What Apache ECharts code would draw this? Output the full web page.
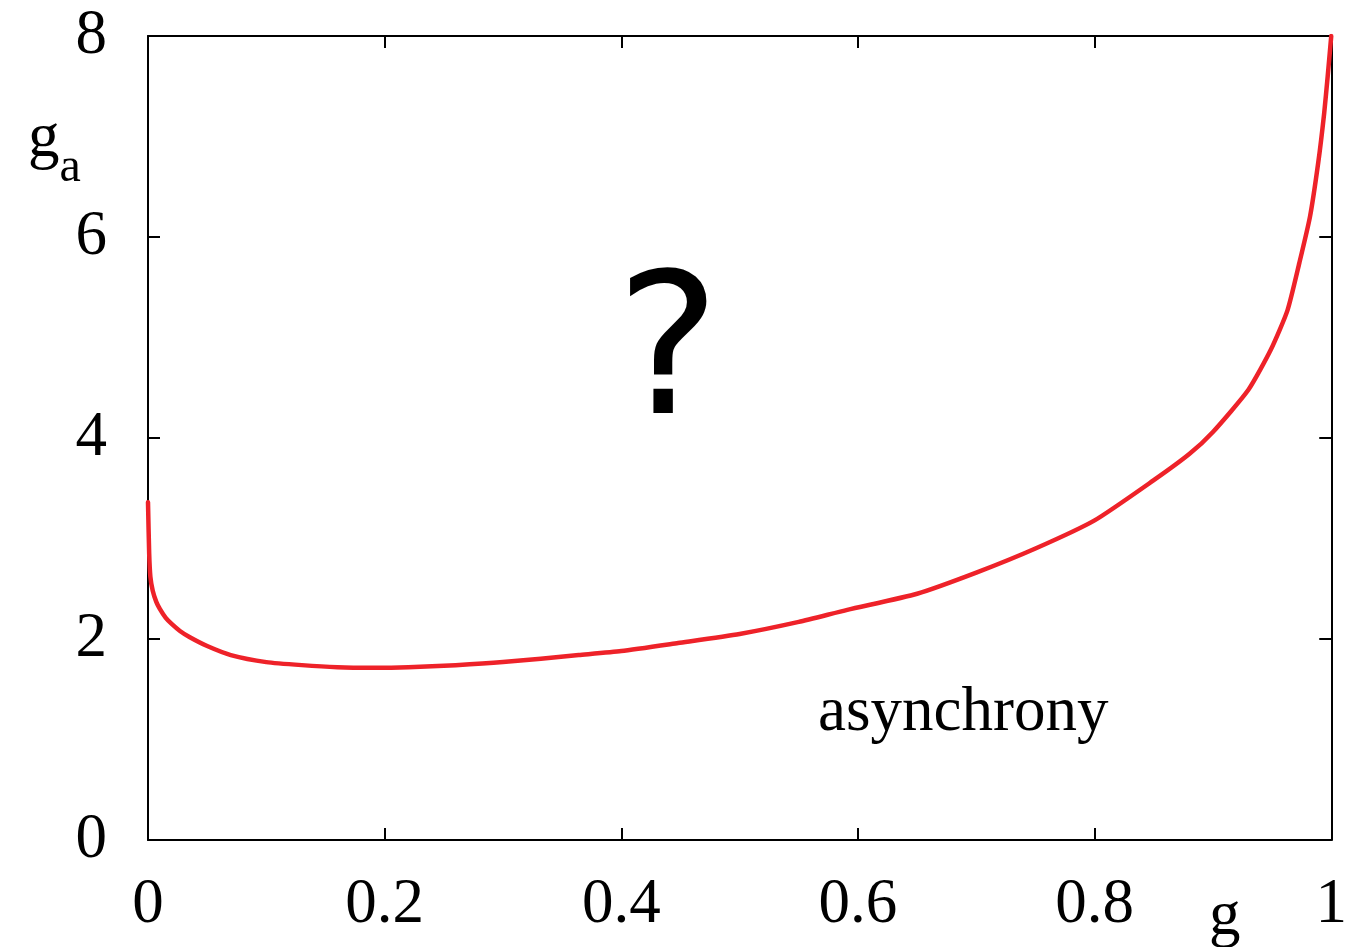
<!DOCTYPE html>
<html>
<head>
<meta charset="utf-8">
<script src="https://cdn.jsdelivr.net/npm/echarts@6/dist/echarts.min.js"></script>
<style>
html,body{margin:0;padding:0;background:#fff;}
#c{width:1350px;height:947px;}
</style>
</head>
<body>
<div id="c"></div>
<script>
const gValues  = [0.000, 0.001, 0.002, 0.004, 0.007, 0.010, 0.015, 0.020, 0.027, 0.035, 0.050, 0.070, 0.100, 0.130, 0.160, 0.190, 0.220, 0.260, 0.300, 0.364, 0.400, 0.448, 0.500, 0.550, 0.591, 0.650, 0.700, 0.750, 0.800, 0.850, 0.880, 0.900, 0.930, 0.949, 0.963, 0.973, 0.982, 0.989, 0.994, 0.997, 1.000];
const gaValues = [3.36, 2.85, 2.62, 2.48, 2.37, 2.30, 2.21, 2.15, 2.08, 2.02, 1.93, 1.84, 1.77, 1.74, 1.72, 1.715, 1.72, 1.74, 1.77, 1.84, 1.88, 1.96, 2.05, 2.17, 2.29, 2.45, 2.66, 2.90, 3.18, 3.58, 3.84, 4.06, 4.48, 4.88, 5.27, 5.74, 6.20, 6.74, 7.23, 7.60, 8.00];
const xTickLabels = {0:'0', 0.2:'0.2', 0.4:'0.4', 0.6:'0.6', 0.8:'0.8', 1:'1'};
const yTickLabels = {0:'0', 2:'2', 4:'4', 6:'6', 8:'8'};
const xAxisTitle = 'g';
const yAxisTitle = 'g';
const yAxisSub = 'a';
const regionMark = '?';
const regionLabel = 'asynchrony';

const serif = '"Liberation Serif", "DejaVu Serif", serif';
const chart = echarts.init(document.getElementById('c'));
const lineStyleAxis = {color:'#000', width:2};
const tickCommon = {show:true, inside:true, length:12, lineStyle:{color:'#000', width:2}};

chart.setOption({
  animation:false,
  backgroundColor:'#fff',
  grid:{left:148, right:12, top:36, bottom:107, containLabel:false},
  xAxis:[{
    type:'value', min:0, max:1, interval:0.2, position:'bottom',
    axisLine:{show:true, onZero:false, lineStyle:lineStyleAxis},
    axisTick:tickCommon,
    splitLine:{show:false},
    axisLabel:{color:'#000', fontFamily:serif, fontSize:63, margin:34,
      formatter:v=>{const k=Math.round(v*10)/10; return xTickLabels[k]!==undefined?xTickLabels[k]:'';}}
  },{
    type:'value', min:0, max:1, interval:0.2, position:'top',
    axisLine:{show:true, onZero:false, lineStyle:lineStyleAxis},
    axisTick:tickCommon, axisLabel:{show:false}, splitLine:{show:false}
  }],
  yAxis:[{
    type:'value', min:0, max:8, interval:2, position:'left',
    axisLine:{show:true, onZero:false, lineStyle:lineStyleAxis},
    axisTick:tickCommon,
    splitLine:{show:false},
    axisLabel:{color:'#000', fontFamily:serif, fontSize:63, margin:41,
      formatter:v=>yTickLabels[v]!==undefined?yTickLabels[v]:''}
  },{
    type:'value', min:0, max:8, interval:2, position:'right',
    axisLine:{show:true, onZero:false, lineStyle:lineStyleAxis},
    axisTick:tickCommon, axisLabel:{show:false}, splitLine:{show:false}
  }],
  series:[{
    type:'line',
    data:gValues.map((g,i)=>[g,gaValues[i]]),
    showSymbol:false,
    smooth:0.2,
    lineStyle:{color:'#EE2229', width:4.5, join:'round', cap:'round'},
    clip:true
  }],
  graphic:[
    {type:'text', left:28, top:108, style:{
      rich:{g:{fontFamily:serif, fontSize:63, fill:'#000'}, s:{fontFamily:serif, fontSize:48, fill:'#000', padding:[58,0,0,0]}},
      text:'{g|'+yAxisTitle+'}{s|'+yAxisSub+'}'}},
    {type:'text', left:1209, top:886, style:{text:xAxisTitle, fontFamily:serif, fontSize:63, fill:'#000'}},
    {type:'text', x:668, y:362, style:{text:regionMark, fontFamily:'"DejaVu Sans", sans-serif', fontSize:196, fill:'#000', align:'center', verticalAlign:'middle'}},
    {type:'text', x:818, y:713, style:{text:regionLabel, fontFamily:serif, fontSize:63, fill:'#000', align:'left', verticalAlign:'middle'}}
  ]
});
</script>
</body>
</html>
